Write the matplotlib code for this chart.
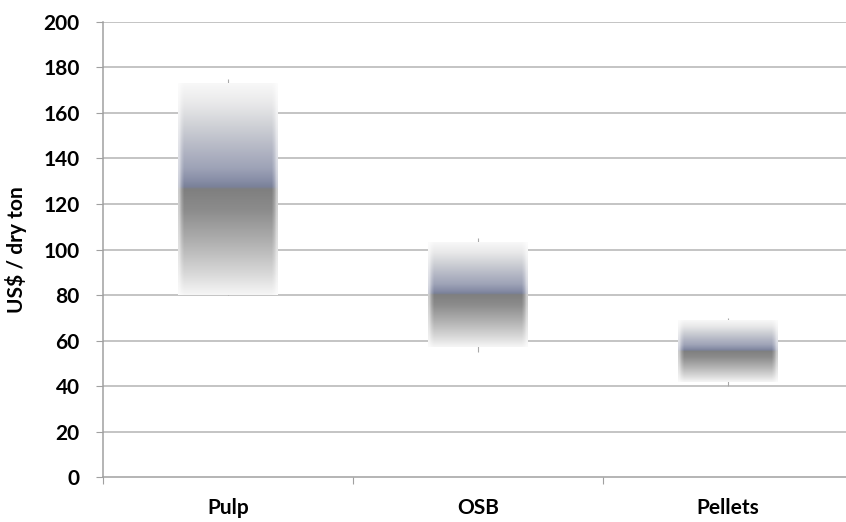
import numpy as np
from matplotlib import pyplot as plt
from matplotlib.colors import to_rgb

categories = ["Pulp", "OSB", "Pellets"]
high = [175, 105, 70]
low = [80, 55, 40]
bar_top = [173, 103, 69]
bar_bottom = [80, 57, 42]
yticks = [0, 20, 40, 60, 80, 100, 120, 140, 160, 180, 200]


def gradient_img(n=300, m=40):
    # vertical stops, 0 = top of bar
    stops = [(0.0, "#f8f8f8"), (0.1, "#e8e8e9"), (0.2, "#cfd1d6"),
             (0.3, "#b6b9c6"), (0.4, "#9ea3b7"), (0.46, "#878da6"),
             (0.49, "#7a8199"), (0.5, "#7f7f7f"), (0.6, "#8c8c8c"),
             (0.75, "#b0b0b0"), (0.9, "#d8d8d8"), (1.0, "#f6f6f6")]
    t = np.linspace(0, 1, n)
    pos = [s[0] for s in stops]
    cols = np.array([to_rgb(s[1]) for s in stops])
    col = np.stack([np.interp(t, pos, cols[:, k]) for k in range(3)], axis=1)
    img = np.repeat(col[:, None, :], m, axis=1)
    # soft left/right edges
    u = np.linspace(0, 1, m)
    edge = np.clip(np.minimum(u, 1 - u) / 0.04, 0, 1) * 0.6 + 0.4
    edge = np.minimum(edge, 1)
    img = 1 - (1 - img) * edge[None, :, None]
    return img


plt.rcParams["font.family"] = ["Lato", "DejaVu Sans"]
fig = plt.figure(figsize=(8.46, 5.22), dpi=100)
ax = fig.add_axes([0.122, 0.086, 0.886, 0.872])

for y in yticks[1:]:
    ax.axhline(y, color="#b4b4b4", lw=1.1, zorder=0)

x = np.arange(len(categories))
w = 0.4
img = gradient_img()
for i in x:
    ax.vlines(i, low[i], high[i], color="#a8a8a8", lw=0.8, zorder=1)
    ax.imshow(img, extent=(i - w / 2, i + w / 2, bar_bottom[i], bar_top[i]),
              aspect="auto", interpolation="bilinear", zorder=2)

ax.set_xlim(-0.5, 2.5)
ax.set_ylim(0, 200)
ax.set_yticks(yticks)
ax.set_yticklabels([str(v) for v in yticks], fontsize=15, fontweight="bold")
ax.set_xticks([-0.5, 0.5, 1.5], minor=False)
ax.set_xticklabels([])
ax.set_xticks(x, minor=True)
ax.set_xticklabels(categories, minor=True, fontsize=15, fontweight="bold")
ax.tick_params(axis="x", which="minor", length=0, pad=15)
ax.tick_params(axis="x", which="major", length=5, color="#a0a0a0", direction="out")
ax.tick_params(axis="y", length=5, color="#a0a0a0", pad=12)
ax.set_ylabel("US$ / dry ton", fontsize=15, fontweight="bold", labelpad=12)

for s in ["top", "right"]:
    ax.spines[s].set_visible(False)
ax.spines["left"].set_color("#a0a0a0")
ax.spines["bottom"].set_color("#a0a0a0")
ax.spines["left"].set_linewidth(1.1)
ax.spines["bottom"].set_linewidth(1.1)

fig.savefig("out.png", dpi=100)
